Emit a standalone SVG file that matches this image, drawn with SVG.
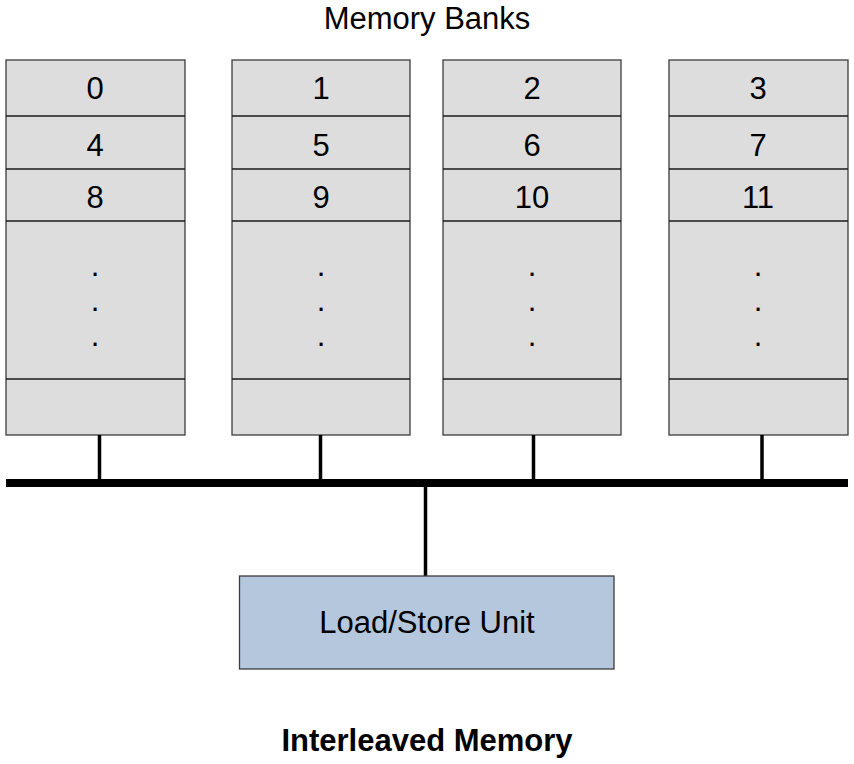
<svg xmlns="http://www.w3.org/2000/svg" width="854" height="764" viewBox="0 0 854 764">
<style>
.bank{fill:#dddddd;stroke:#3c3c3c;stroke-width:1.3}
.div{stroke:#1a1a1a;stroke-width:1.3}
text{font-family:"Liberation Sans",Arial,sans-serif;font-size:31px;fill:#000;text-anchor:middle}
.wire{stroke:#000;stroke-width:3.5;fill:none}
.bus{stroke:#000;stroke-width:8;fill:none}
.lsu{fill:#b4c7dc;stroke:#3c3c3c;stroke-width:1.3}
</style>
<rect width="854" height="764" fill="#fff"/>
<text x="427" y="29">Memory Banks</text>
<g id="bank0">
<rect class="bank" x="6" y="60" width="179" height="375"/>
<line class="div" x1="6" y1="116" x2="185" y2="116"/><line class="div" x1="6" y1="169" x2="185" y2="169"/><line class="div" x1="6" y1="221" x2="185" y2="221"/><line class="div" x1="6" y1="379" x2="185" y2="379"/>
<text x="95" y="99">0</text><text x="95" y="156">4</text><text x="95" y="208">8</text>
<text x="95" y="276">.</text><text x="95" y="311">.</text><text x="95" y="346">.</text>
</g>
<g id="bank1">
<rect class="bank" x="232" y="60" width="178" height="375"/>
<line class="div" x1="232" y1="116" x2="410" y2="116"/><line class="div" x1="232" y1="169" x2="410" y2="169"/><line class="div" x1="232" y1="221" x2="410" y2="221"/><line class="div" x1="232" y1="379" x2="410" y2="379"/>
<text x="321" y="99">1</text><text x="321" y="156">5</text><text x="321" y="208">9</text>
<text x="321" y="276">.</text><text x="321" y="311">.</text><text x="321" y="346">.</text>
</g>
<g id="bank2">
<rect class="bank" x="443" y="60" width="178" height="375"/>
<line class="div" x1="443" y1="116" x2="621" y2="116"/><line class="div" x1="443" y1="169" x2="621" y2="169"/><line class="div" x1="443" y1="221" x2="621" y2="221"/><line class="div" x1="443" y1="379" x2="621" y2="379"/>
<text x="532" y="99">2</text><text x="532" y="156">6</text><text x="532" y="208">10</text>
<text x="532" y="276">.</text><text x="532" y="311">.</text><text x="532" y="346">.</text>
</g>
<g id="bank3">
<rect class="bank" x="669" y="60" width="179" height="375"/>
<line class="div" x1="669" y1="116" x2="848" y2="116"/><line class="div" x1="669" y1="169" x2="848" y2="169"/><line class="div" x1="669" y1="221" x2="848" y2="221"/><line class="div" x1="669" y1="379" x2="848" y2="379"/>
<text x="758" y="99">3</text><text x="758" y="156">7</text><text x="758" y="208">11</text>
<text x="758" y="276">.</text><text x="758" y="311">.</text><text x="758" y="346">.</text>
</g>
<g id="connectors">
<line class="bus" x1="6" y1="483" x2="848" y2="483"/>
<line class="wire" x1="99.5" y1="435" x2="99.5" y2="480"/>
<line class="wire" x1="320.5" y1="435" x2="320.5" y2="480"/>
<line class="wire" x1="533.5" y1="435" x2="533.5" y2="480"/>
<line class="wire" x1="762" y1="435" x2="762" y2="480"/>
<line class="wire" x1="425.5" y1="486" x2="425.5" y2="576"/>
</g>
<g id="lsu">
<rect class="lsu" x="239.5" y="576" width="374.5" height="93"/>
<text x="427" y="633">Load/Store Unit</text>
</g>
<text x="427" y="751" style="font-weight:bold">Interleaved Memory</text>
</svg>
